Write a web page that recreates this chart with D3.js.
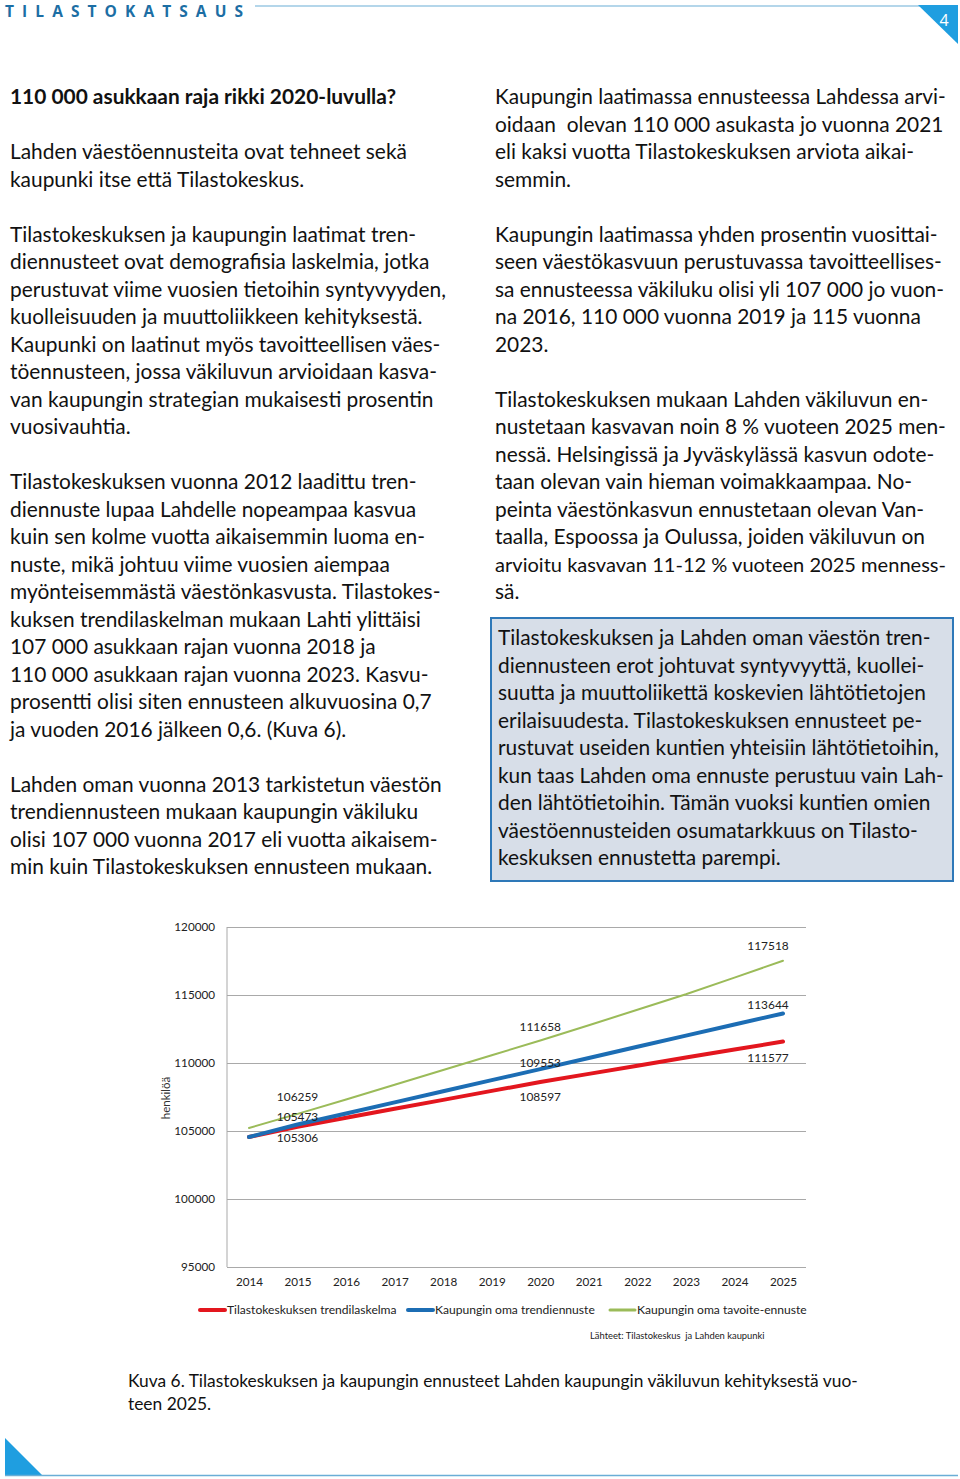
<!DOCTYPE html>
<html>
<head>
<meta charset="utf-8">
<script src="https://cdn.jsdelivr.net/npm/d3@7"></script>
<style>
html,body{margin:0;padding:0;background:#fff;}
svg{display:block;}
svg text{white-space:pre;}
</style>
</head>
<body>
<svg id="page" width="960" height="1479"></svg>
<script>
// ---------- chart data ----------
const years = ["2014","2015","2016","2017","2018","2019","2020","2021","2022","2023","2024","2025"];
const tilastokeskus = [104560,105306,105970,106630,107290,107950,108597,109200,109800,110400,110990,111577];
const kaupunkiTrendi = [104560,105473,106290,107105,107920,108740,109553,110370,111190,112010,112830,113644];
const kaupunkiTavoite = [105220,106259,107320,108395,109480,110570,111658,112780,113910,115050,116280,117518];
const seriesNames = ["Tilastokeskuksen trendilaskelma","Kaupungin oma trendiennuste","Kaupungin oma tavoite-ennuste"];
const yTicks = [95000,100000,105000,110000,115000,120000];
const labelYears = ["2015","2020","2025"];
const yAxisTitle = "henkilöä";
const sourceText = "Lähteet: Tilastokeskus  ja Lahden kaupunki";

// ---------- page text ----------
const leftLines = [
 {t:"110 000 asukkaan raja rikki 2020-luvulla?", b:true},
 {t:""},
 {t:"Lahden väestöennusteita ovat tehneet sekä"},
 {t:"kaupunki itse että Tilastokeskus."},
 {t:""},
 {t:"Tilastokeskuksen ja kaupungin laatimat tren-"},
 {t:"diennusteet ovat demografisia laskelmia, jotka"},
 {t:"perustuvat viime vuosien tietoihin syntyvyyden,"},
 {t:"kuolleisuuden ja muuttoliikkeen kehityksestä."},
 {t:"Kaupunki on laatinut myös tavoitteellisen väes-"},
 {t:"töennusteen, jossa väkiluvun arvioidaan kasva-"},
 {t:"van kaupungin strategian mukaisesti prosentin"},
 {t:"vuosivauhtia."},
 {t:""},
 {t:"Tilastokeskuksen vuonna 2012 laadittu tren-"},
 {t:"diennuste lupaa Lahdelle nopeampaa kasvua"},
 {t:"kuin sen kolme vuotta aikaisemmin luoma en-"},
 {t:"nuste, mikä johtuu viime vuosien aiempaa"},
 {t:"myönteisemmästä väestönkasvusta. Tilastokes-"},
 {t:"kuksen trendilaskelman mukaan Lahti ylittäisi"},
 {t:"107 000 asukkaan rajan vuonna 2018 ja"},
 {t:"110 000 asukkaan rajan vuonna 2023. Kasvu-"},
 {t:"prosentti olisi siten ennusteen alkuvuosina 0,7"},
 {t:"ja vuoden 2016 jälkeen 0,6. (Kuva 6)."},
 {t:""},
 {t:"Lahden oman vuonna 2013 tarkistetun väestön"},
 {t:"trendiennusteen mukaan kaupungin väkiluku"},
 {t:"olisi 107 000 vuonna 2017 eli vuotta aikaisem-"},
 {t:"min kuin Tilastokeskuksen ennusteen mukaan."}
];
const rightLines = [
 "Kaupungin laatimassa ennusteessa Lahdessa arvi-",
 "oidaan  olevan 110 000 asukasta jo vuonna 2021",
 "eli kaksi vuotta Tilastokeskuksen arviota aikai-",
 "semmin.",
 "",
 "Kaupungin laatimassa yhden prosentin vuosittai-",
 "seen väestökasvuun perustuvassa tavoitteellises-",
 "sa ennusteessa väkiluku olisi yli 107 000 jo vuon-",
 "na 2016, 110 000 vuonna 2019 ja 115 vuonna",
 "2023.",
 "",
 "Tilastokeskuksen mukaan Lahden väkiluvun en-",
 "nustetaan kasvavan noin 8 % vuoteen 2025 men-",
 "nessä. Helsingissä ja Jyväskylässä kasvun odote-",
 "taan olevan vain hieman voimakkaampaa. No-",
 "peinta väestönkasvun ennustetaan olevan Van-",
 "taalla, Espoossa ja Oulussa, joiden väkiluvun on",
 "arvioitu kasvavan 11-12 % vuoteen 2025 menness-",
 "sä."
];
const boxLines = [
 "Tilastokeskuksen ja Lahden oman väestön tren-",
 "diennusteen erot johtuvat syntyvyyttä, kuollei-",
 "suutta ja muuttoliikettä koskevien lähtötietojen",
 "erilaisuudesta. Tilastokeskuksen ennusteet pe-",
 "rustuvat useiden kuntien yhteisiin lähtötietoihin,",
 "kun taas Lahden oma ennuste perustuu vain Lah-",
 "den lähtötietoihin. Tämän vuoksi kuntien omien",
 "väestöennusteiden osumatarkkuus on Tilasto-",
 "keskuksen ennustetta parempi."
];
const captionLines = [
 "Kuva 6. Tilastokeskuksen ja kaupungin ennusteet Lahden kaupungin väkiluvun kehityksestä vuo-",
 "teen 2025."
];

const bodyFont = "Lato, 'Open Sans', sans-serif";
const svg = d3.select("#page");

// ---------- header / footer decorations ----------
svg.append("text").attr("x",5).attr("y",17).attr("textLength",238).attr("lengthAdjust","spacing")
  .style("font-family","'Open Sans', sans-serif").style("font-weight","700").style("font-size","15.5px")
  .attr("fill","#1c6ea4").text("TILASTOKATSAUS");
svg.append("line").attr("x1",255).attr("x2",925).attr("y1",6).attr("y2",6)
  .attr("stroke","#6aaed6").attr("stroke-width",1.2);
svg.append("path").attr("d","M918,5 L958,5 L958,44 Z").attr("fill","#1f9ee0");
svg.append("text").attr("x",944).attr("y",26).attr("text-anchor","middle")
  .style("font-family","'Open Sans', sans-serif").style("font-size","16px").attr("fill","#fff").text("4");
svg.append("path").attr("d","M5,1438 L5,1476 L43,1476 Z").attr("fill","#1f9ee0");
svg.append("line").attr("x1",5).attr("x2",958).attr("y1",1475.5).attr("y2",1475.5)
  .attr("stroke","#6aaed6").attr("stroke-width",1.5);

// ---------- text columns ----------
function writeLines(lines, x, y0, opts={}) {
  const g = svg.append("g");
  const lh = opts.lh || 27.5;
  const fs = opts.size || 20.9;
  lines.forEach((l, i) => {
    const o = typeof l === "string" ? {t:l} : l;
    if (!o.t) return;
    const t = g.append("text").attr("x", x).attr("y", y0 + i*lh)
      .style("font-family", bodyFont).style("font-size", fs + "px")
      .style("font-weight", o.b ? "700" : "400")
      .attr("fill", "#111").text(o.t);
    if (opts.maxW) {
      const w = t.node().getComputedTextLength();
      if (w > opts.maxW) t.style("font-size", (fs * opts.maxW / w) + "px");
    }
  });
}
writeLines(leftLines, 10, 104, {maxW: 440});
writeLines(rightLines, 495, 104, {maxW: 451});

svg.append("rect").attr("x",491).attr("y",618).attr("width",462).attr("height",263)
  .attr("fill","#d7dee8").attr("stroke","#2e78b8").attr("stroke-width",2);
writeLines(boxLines, 498, 645, {maxW: 446});

writeLines(captionLines, 128, 1387, {size:17.4, lh:23, maxW: 730});

// ---------- chart ----------
const x = d3.scalePoint().domain(years).range([249, 783]);
const y = d3.scaleLinear().domain([95000, 120000]).range([1267, 927]);
const plotLeft = 227, plotRight = 806;
const chartFont = "Lato, 'Open Sans', sans-serif";

const yAxis = svg.append("g").attr("transform", `translate(${plotLeft},0)`)
  .call(d3.axisLeft(y).tickValues(yTicks).tickSize(-(plotRight - plotLeft)).tickPadding(12).tickFormat(d3.format("d")));
yAxis.select(".domain").remove();
yAxis.selectAll(".tick line").attr("stroke", "#a9a9a9").attr("stroke-width", 1);
yAxis.selectAll(".tick text").style("font-family", chartFont).style("font-size", "11.7px").attr("fill", "#222");

svg.append("line").attr("x1", plotLeft).attr("x2", plotLeft).attr("y1", y(120000)).attr("y2", y(95000))
  .attr("stroke", "#a9a9a9").attr("stroke-width", 1);

const xAxis = svg.append("g").attr("transform", `translate(0,${y(95000)})`)
  .call(d3.axisBottom(x).tickSize(0).tickPadding(11));
xAxis.select(".domain").remove();
xAxis.selectAll(".tick text").style("font-family", chartFont).style("font-size", "11.7px").attr("fill", "#222");

svg.append("text").attr("transform", `translate(${170},${1098}) rotate(-90)`).attr("text-anchor", "middle")
  .style("font-family", chartFont).style("font-size", "11.5px").attr("fill", "#333").text(yAxisTitle);

const labelDx = [0, 0, -15];
const series = [
  {name: seriesNames[0], values: tilastokeskus, color: "#e3161e", width: 4, labelDy: [11, 15, 16]},
  {name: seriesNames[1], values: kaupunkiTrendi, color: "#1c6db4", width: 4, labelDy: [-8, -6, -9]},
  {name: seriesNames[2], values: kaupunkiTavoite, color: "#9bbb59", width: 2, labelDy: [-17, -14, -15]}
];
const line = d3.line().x((d, i) => x(years[i])).y(d => y(d));
[series[2], series[0], series[1]].forEach(s => {
  svg.append("path").datum(s.values).attr("d", line).attr("fill", "none")
    .attr("stroke", s.color).attr("stroke-width", s.width).attr("stroke-linecap", "round");
});
series.forEach(s => {
  labelYears.forEach((yr, k) => {
    const i = years.indexOf(yr);
    svg.append("text").attr("x", x(yr) + labelDx[k]).attr("y", y(s.values[i]) + s.labelDy[k]).attr("dy", "0.35em")
      .attr("text-anchor", "middle").style("font-family", chartFont).style("font-size", "11.9px")
      .attr("fill", "#222").text(d3.format("d")(s.values[i]));
  });
});

// legend
const legendX = [200, 408, 610];
series.forEach((s, i) => {
  svg.append("line").attr("x1", legendX[i]).attr("x2", legendX[i] + 25).attr("y1", 1310).attr("y2", 1310)
    .attr("stroke", s.color).attr("stroke-width", i === 2 ? 3 : 4).attr("stroke-linecap", "round");
  svg.append("text").attr("x", legendX[i] + 27).attr("y", 1310).attr("dy", "0.35em")
    .style("font-family", chartFont).style("font-size", "12.1px").attr("fill", "#222").text(s.name);
});
svg.append("text").attr("x", 590).attr("y", 1336).attr("dy", "0.35em")
  .style("font-family", chartFont).style("font-size", "9.4px").attr("fill", "#222").text(sourceText);
</script>
</body>
</html>
